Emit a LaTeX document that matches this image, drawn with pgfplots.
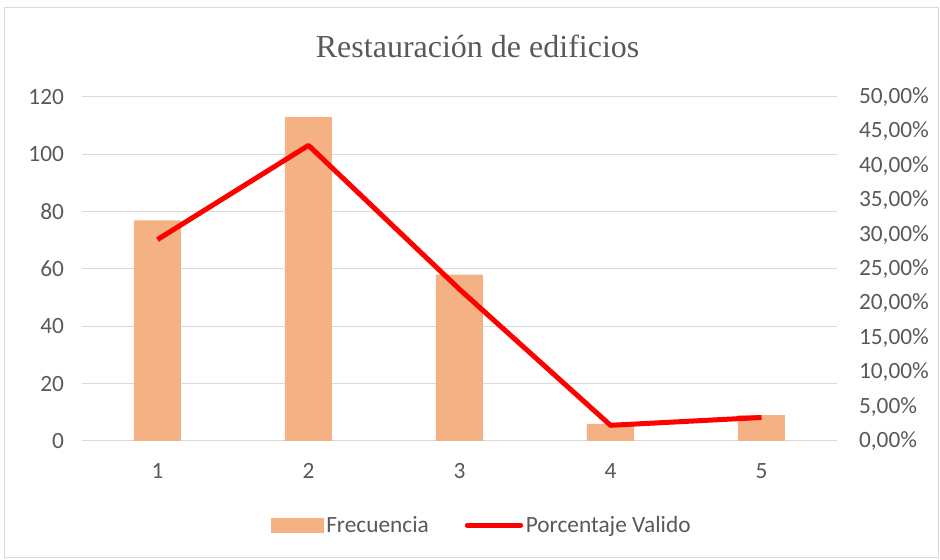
\documentclass[border=0pt]{standalone}
\usepackage{fontspec}
\setmainfont{Carlito}
\newfontfamily\titlefont{Liberation Serif}
\usepackage{pgfplots}
\pgfplotsset{compat=1.18}
\definecolor{barc}{RGB}{244,177,131}
\definecolor{txt}{RGB}{89,89,89}
\definecolor{gridc}{RGB}{217,217,217}
\begin{document}
\begin{tikzpicture}
\path[use as bounding box] (0pt,0pt) rectangle (705pt,420pt);
\draw[gridc, line width=0.75pt] (3pt,1.5pt) rectangle (703.5pt,414.5pt);
\begin{axis}[
  at={(61.5pt,89.25pt)}, anchor=south west,
  width=566.25pt, height=258pt, scale only axis,
  xmin=0.5, xmax=5.5, ymin=0, ymax=120,
  ytick={0,20,...,120}, xtick={1,2,3,4,5},
  axis x line*=bottom, axis y line*=left,
  axis line style={-},
  y axis line style={draw=none},
  x axis line style={gridc, line width=0.75pt},
  major tick length=0pt,
  ymajorgrids, grid style={gridc, line width=0.75pt},
  /pgf/number format/assume math mode=true,
  ticklabel style={font=\fontsize{17.5}{17.5}\selectfont, color=txt},
  yticklabel style={xshift=-10pt},
  xticklabel style={yshift=-13pt},
  title={\titlefont Restauración de edificios},
  title style={at={(0.524,1.125)}, anchor=center, font=\fontsize{24}{24}\selectfont, color=txt},
]
\addplot[ybar, bar width=35.25pt, fill=barc, draw=none] coordinates {(1,77) (2,113) (3,58) (4,6) (5,9)};
\end{axis}
\begin{axis}[
  at={(61.5pt,89.25pt)}, anchor=south west,
  width=566.25pt, height=258pt, scale only axis,
  xmin=0.5, xmax=5.5, ymin=0, ymax=0.5,
  axis x line=none, axis y line*=right,
  axis line style={draw=none},
  major tick length=0pt,
  ytick={0,0.05,0.1,0.15,0.2,0.25,0.3,0.35,0.4,0.45,0.5},
  yticklabels={{0,00\%},{5,00\%},{10,00\%},{15,00\%},{20,00\%},{25,00\%},{30,00\%},{35,00\%},{40,00\%},{45,00\%},{50,00\%}},
  ticklabel style={font=\fontsize{17.5}{17.5}\selectfont, color=txt},
  yticklabel style={anchor=west, xshift=13pt},
  legend columns=2,
  legend style={at={(0.53,-0.245)}, anchor=center, draw=none, fill=none,
    font=\fontsize{17.5}{17.5}\selectfont, text=txt,
    /tikz/every even column/.append style={column sep=25pt}},
]
\addlegendimage{legend image code/.code={\fill[barc] (0pt,-5.25pt) rectangle (39pt,5.25pt);}}
\addlegendentry{Frecuencia}
\addplot[red, line width=3.75pt, line join=round,
  legend image code/.code={\draw[red, line width=3.75pt, line cap=round] (0pt,0pt) -- (40pt,0pt);}]
  coordinates {(1,0.2928) (2,0.4297) (3,0.2205) (4,0.0228) (5,0.0342)};
\addlegendentry{Porcentaje Valido}
\end{axis}
\end{tikzpicture}
\end{document}
